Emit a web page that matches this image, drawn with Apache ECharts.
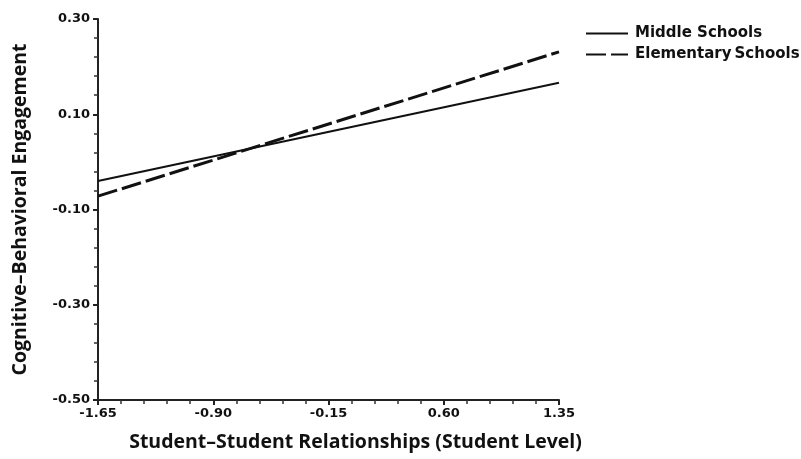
<!DOCTYPE html>
<html>
<head>
<meta charset="utf-8">
<script src="https://cdn.jsdelivr.net/npm/echarts@6/dist/echarts.min.js"></script>
<style>
  html, body { margin: 0; padding: 0; background: #fff; }
  #chart { width: 801px; height: 459px; }
</style>
</head>
<body>
<div id="chart"></div>
<script>
// end points of the two simple-slope lines
var xValues = [-1.65, 1.35];
var middleValues = [-0.04, 0.166];
var elementaryValues = [-0.072, 0.231];
var seriesNames = ["Middle Schools", "Elementary\u2009Schools"];

var myChart = echarts.init(document.getElementById("chart"));

function pairs(ys) {
  return xValues.map(function (x, i) {
    return [x, ys[i]];
  });
}

var labelFont = {
  color: "#111",
  fontFamily: "DejaVu Sans, sans-serif",
  fontWeight: "bold",
  fontSize: 13,
};

var titleFont = {
  color: "#111",
  fontFamily: "Open Sans, sans-serif",
  fontWeight: "bold",
  fontSize: 19.5,
};

myChart.setOption({
  animation: false,
  grid: {
    left: 98,
    right: 242,
    top: 19,
    bottom: 59,
  },
  legend: {
    orient: "vertical",
    left: 580,
    top: 21,
    itemWidth: 42,
    itemHeight: 12,
    itemGap: 6,
    itemStyle: { opacity: 0 },
    textStyle: {
      color: "#111",
      fontFamily: "DejaVu Sans, sans-serif",
      fontWeight: "bold",
      fontSize: 15,
      padding: [0, 0, 0, 2],
    },
    data: seriesNames,
  },
  xAxis: {
    type: "value",
    min: -1.65,
    max: 1.35,
    interval: 0.75,
    name: "Student–Student Relationships (Student Level)",
    nameLocation: "middle",
    nameGap: 32,
    nameTextStyle: Object.assign({ padding: [0, 0, 0, 54] }, titleFont),
    axisLine: { onZero: false, lineStyle: { color: "#222", width: 2 } },
    axisTick: { length: 5, lineStyle: { color: "#222", width: 2 } },
    minorTick: { show: true, splitNumber: 5, length: 4, lineStyle: { color: "#333", width: 1.5 } },
    splitLine: { show: false },
    axisLabel: Object.assign({ margin: 7, formatter: function (v) { return v.toFixed(2); } }, labelFont),
  },
  yAxis: {
    type: "value",
    min: -0.5,
    max: 0.3,
    interval: 0.2,
    name: "Cognitive–Behavioral Engagement",
    nameLocation: "middle",
    nameGap: 68,
    nameTextStyle: titleFont,
    axisLine: { show: true, onZero: false, lineStyle: { color: "#222", width: 2 } },
    axisTick: { show: true, length: 5, lineStyle: { color: "#222", width: 2 } },
    minorTick: { show: true, splitNumber: 5, length: 4, lineStyle: { color: "#333", width: 1.5 } },
    splitLine: { show: false },
    axisLabel: Object.assign({ margin: 8, formatter: function (v) { return v.toFixed(2); } }, labelFont),
  },
  series: [
    {
      name: seriesNames[0],
      type: "line",
      symbol: "none",
      data: pairs(middleValues),
      lineStyle: { color: "#111", width: 2 },
      itemStyle: { color: "#111" },
    },
    {
      name: seriesNames[1],
      type: "line",
      symbol: "none",
      data: pairs(elementaryValues),
      lineStyle: { color: "#111", width: 3, type: [20, 5] },
      itemStyle: { color: "#111" },
    },
  ],
});
</script>
</body>
</html>
